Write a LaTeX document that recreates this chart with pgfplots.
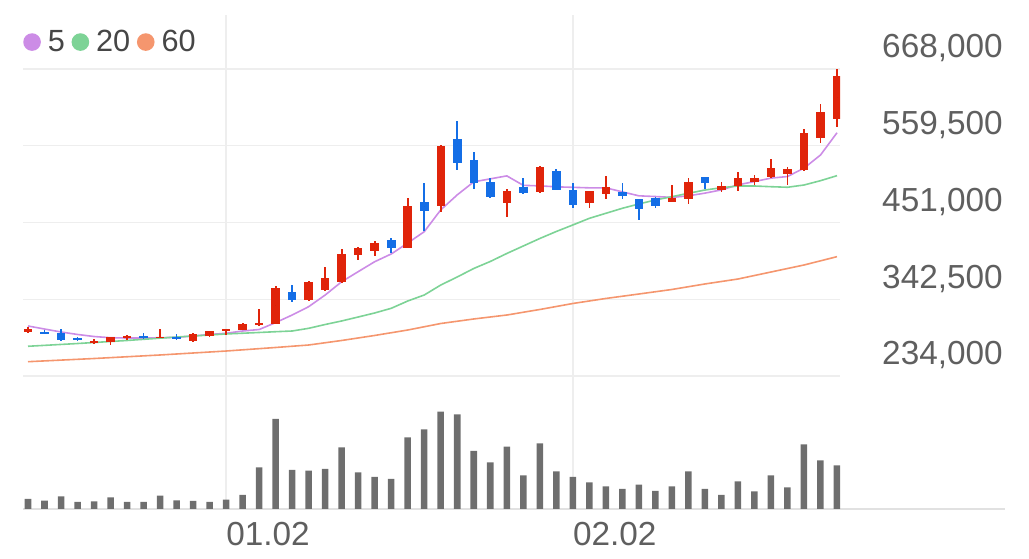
\documentclass[border=0pt]{standalone}
\usepackage{pgfplots}
\pgfplotsset{compat=1.18}
\usepackage{pgfplotstable}
\usepackage{fontspec}
\setmainfont{Liberation Sans}
\definecolor{cred}{RGB}{224,36,10}
\definecolor{cblue}{RGB}{20,110,230}
\definecolor{maf}{RGB}{204,140,230}
\definecolor{mat}{RGB}{125,211,150}
\definecolor{mas}{RGB}{245,150,110}
\definecolor{volc}{RGB}{110,110,110}
\definecolor{gridc}{RGB}{238,238,238}
\definecolor{basec}{RGB}{225,225,225}
\definecolor{tickc}{RGB}{95,95,95}
\definecolor{legc}{RGB}{70,70,70}
\newcommand{\tickfont}{\fontsize{25pt}{30pt}\selectfont}
\newcommand{\legfont}{\fontsize{23pt}{27pt}\selectfont}
\pgfplotsset{candle/.style={forget plot, only marks, mark size=0pt,
  mark options={draw=none, fill=none},
  error bars/.cd, y dir=both, y explicit, error mark=none}}

\pgfplotstableread{
i o h l c
0 296500 303500 295000 300000
4 280000 286000 279000 283500
5 281500 289000 278000 288500
6 288000 291500 285000 290500
8 287500 300000 287000 289500
10 283500 294500 281500 293500
11 291000 298000 289500 297500
12 297500 301000 292500 300000
13 299000 309500 298500 307000
14 306000 328500 305000 309500
15 307500 361000 307000 359000
17 341500 368500 340000 367500
18 355000 387500 354000 372500
19 366500 413000 366000 406500
20 405000 416000 398500 414500
21 410500 425000 404000 421500
23 415500 486000 414500 474500
25 475000 560500 466500 559500
29 478000 498000 458500 495500
31 493500 531000 492500 530000
34 479000 495500 472000 495000
35 491500 516500 484000 501500
39 480000 504000 479500 486000
40 484000 514500 477000 508500
42 496500 508000 494500 503000
43 502500 523000 496000 513500
44 508500 518000 504000 514500
45 515000 541000 514500 527500
46 519500 529000 504000 526000
47 525000 583000 524500 577000
48 571000 618500 563000 607000
49 597000 667500 586500 658000
}\redtab

\pgfplotstableread{
i o h l c
1 296000 298500 293000 293500
2 294500 301000 284000 285000
3 288000 289500 283000 285000
7 291000 294500 286000 287500
9 289000 293000 285000 286000
16 353000 362500 338000 341500
22 426500 428500 407500 414500
24 480500 507500 439500 467500
26 568500 595000 525000 534500
27 539500 551000 498000 507500
28 508000 513500 486000 486500
30 501000 513500 491000 492500
32 524000 526000 496500 497500
33 496500 507500 472000 475500
36 494000 507500 484000 489000
37 484000 484500 454000 470000
38 485000 487500 472000 475000
41 515500 516000 499000 506500
}\bluetab

\pgfplotstableread{
i v
0 304700
1 300400
2 296200
3 292700
4 289800
5 288100
6 287700
7 287700
8 288100
9 288700
10 290500
11 292700
12 294400
13 297600
14 299700
15 309500
16 320200
17 332000
18 348500
19 367300
20 381500
21 395600
22 406500
23 422000
24 438000
25 468900
26 490100
27 508500
28 512700
29 516900
30 503500
31 502800
32 501400
33 500700
34 500000
35 500000
36 494300
37 488700
38 487700
39 486500
40 488700
41 492500
42 497100
43 504200
44 508900
45 513700
46 516000
47 527800
48 546400
49 577900
}\mafive

\pgfplotstableread{
i v
0 276000
3 279900
6 284200
9 289100
12 293400
14 295500
15 296600
16 297600
17 301400
18 306800
19 311800
20 317400
21 323100
22 329700
23 340000
24 348500
25 362600
26 374000
27 386000
28 395900
29 407200
30 417800
31 428400
32 438300
33 447500
34 456900
35 464000
36 471100
37 477200
38 482800
39 487500
40 492300
41 496900
42 500200
43 502600
44 502600
45 501600
46 500800
47 504000
48 510100
49 517200
}\matwenty

\pgfplotstableread{
i v
0 254200
4 258700
8 263700
12 269300
15 274300
17 277800
19 284200
21 291300
23 299000
25 308200
27 314600
29 320200
31 328000
33 336500
35 343600
37 349900
39 356300
41 364100
43 371100
45 381000
47 390900
49 402700
}\masixty

\pgfplotstableread{
i v
0 10
1 8.3
2 12.7
3 7
4 7.7
5 11.7
6 7
7 7
8 13.3
9 8.7
10 8
11 7
12 9.3
13 14
14 41.7
15 90
16 39
17 38.3
18 40
19 61.7
20 36.7
21 32
22 30
23 71.7
24 79.7
25 97.3
26 94.7
27 58
28 46.7
29 62.3
30 33.7
31 65.7
32 37.7
33 32
34 26.7
35 22.7
36 20
37 24.3
38 18
39 22.7
40 37.7
41 20
42 14
43 27.7
44 17.7
45 33.7
46 21.7
47 64.7
48 48.7
49 43.7
}\voltab

\begin{document}
\begin{tikzpicture}
\path[use as bounding box] (0,0) rectangle (771.75pt,419.25pt);
% volume panel
\begin{axis}[
  at={(17.25pt,37.5pt)}, anchor=south west, scale only axis,
  width=736.5pt, height=99.75pt,
  xmin=-0.303, xmax=59.18, ymin=0, ymax=133,
  axis y line=none, axis x line*=bottom,
  axis line style={draw=basec, line width=1.5pt, -},
  ytick=\empty,
  xtick={12,33}, xticklabels={01.02,02.02},
  xmajorgrids, grid style={draw=gridc, line width=1.1pt},
  major tick length=0pt,
  xticklabel style={anchor=north west, inner sep=0pt, yshift=-9.75pt, font=\tickfont, text=tickc},
  ybar, bar width=4.9pt,
]
\addplot[fill=volc, draw=none] table[x=i,y=v] {\voltab};
\end{axis}
% price panel
\begin{axis}[
  at={(17.25pt,137.25pt)}, anchor=south west, scale only axis,
  width=612.75pt, height=270.75pt,
  xmin=-0.303, xmax=49.18, ymin=234000, ymax=744346,
  axis line style={draw=none},
  major tick length=0pt,
  xtick={12,33}, xticklabels={,},
  xmajorgrids, ymajorgrids,
  grid style={draw=gridc, line width=1.1pt},
  ytick={234000,342500,451000,559500,668000},
  yticklabels={{234,000},{342,500},{451,000},{559,500},{668,000}},
  scaled y ticks=false,
  yticklabel pos=right,
  yticklabel style={anchor=base east, inner sep=0pt, xshift=122.25pt, yshift=8.25pt, font=\tickfont, text=tickc},
  legend style={at={(axis description cs:0,0.925)}, anchor=west, draw=none, fill=none,
    inner sep=0pt, font=\legfont, text=legc, legend columns=-1,
    nodes={inner sep=0pt},
    /tikz/every odd column/.append style={column sep=5.25pt},
    /tikz/every even column/.append style={column sep=5pt}},
]
\addplot[maf, line width=1.2pt, mark=none,
  legend image code/.code={\fill[maf] (6pt,0pt) circle (6pt);}] table[x=i,y=v] {\mafive};
\addlegendentry{5}
\addplot[mat, line width=1.2pt, mark=none,
  legend image code/.code={\fill[mat] (6pt,0pt) circle (6pt);}] table[x=i,y=v] {\matwenty};
\addlegendentry{20}
\addplot[mas, line width=1.2pt, mark=none,
  legend image code/.code={\fill[mas] (6pt,0pt) circle (6pt);}] table[x=i,y=v] {\masixty};
\addlegendentry{60}
% wicks
\addplot[candle, error bar style={draw=cred, line width=1.3pt}]
  table[x=i, y expr={(\thisrow{h}+\thisrow{l})/2}, y error expr={(\thisrow{h}-\thisrow{l})/2}] {\redtab};
\addplot[candle, error bar style={draw=cblue, line width=1.3pt}]
  table[x=i, y expr={(\thisrow{h}+\thisrow{l})/2}, y error expr={(\thisrow{h}-\thisrow{l})/2}] {\bluetab};
% bodies
\addplot[candle, error bar style={draw=cred, line width=6.4pt}]
  table[x=i, y expr={(\thisrow{o}+\thisrow{c})/2}, y error expr={abs(\thisrow{o}-\thisrow{c})/2}] {\redtab};
\addplot[candle, error bar style={draw=cblue, line width=6.4pt}]
  table[x=i, y expr={(\thisrow{o}+\thisrow{c})/2}, y error expr={abs(\thisrow{o}-\thisrow{c})/2}] {\bluetab};
\end{axis}
\end{tikzpicture}
\end{document}
